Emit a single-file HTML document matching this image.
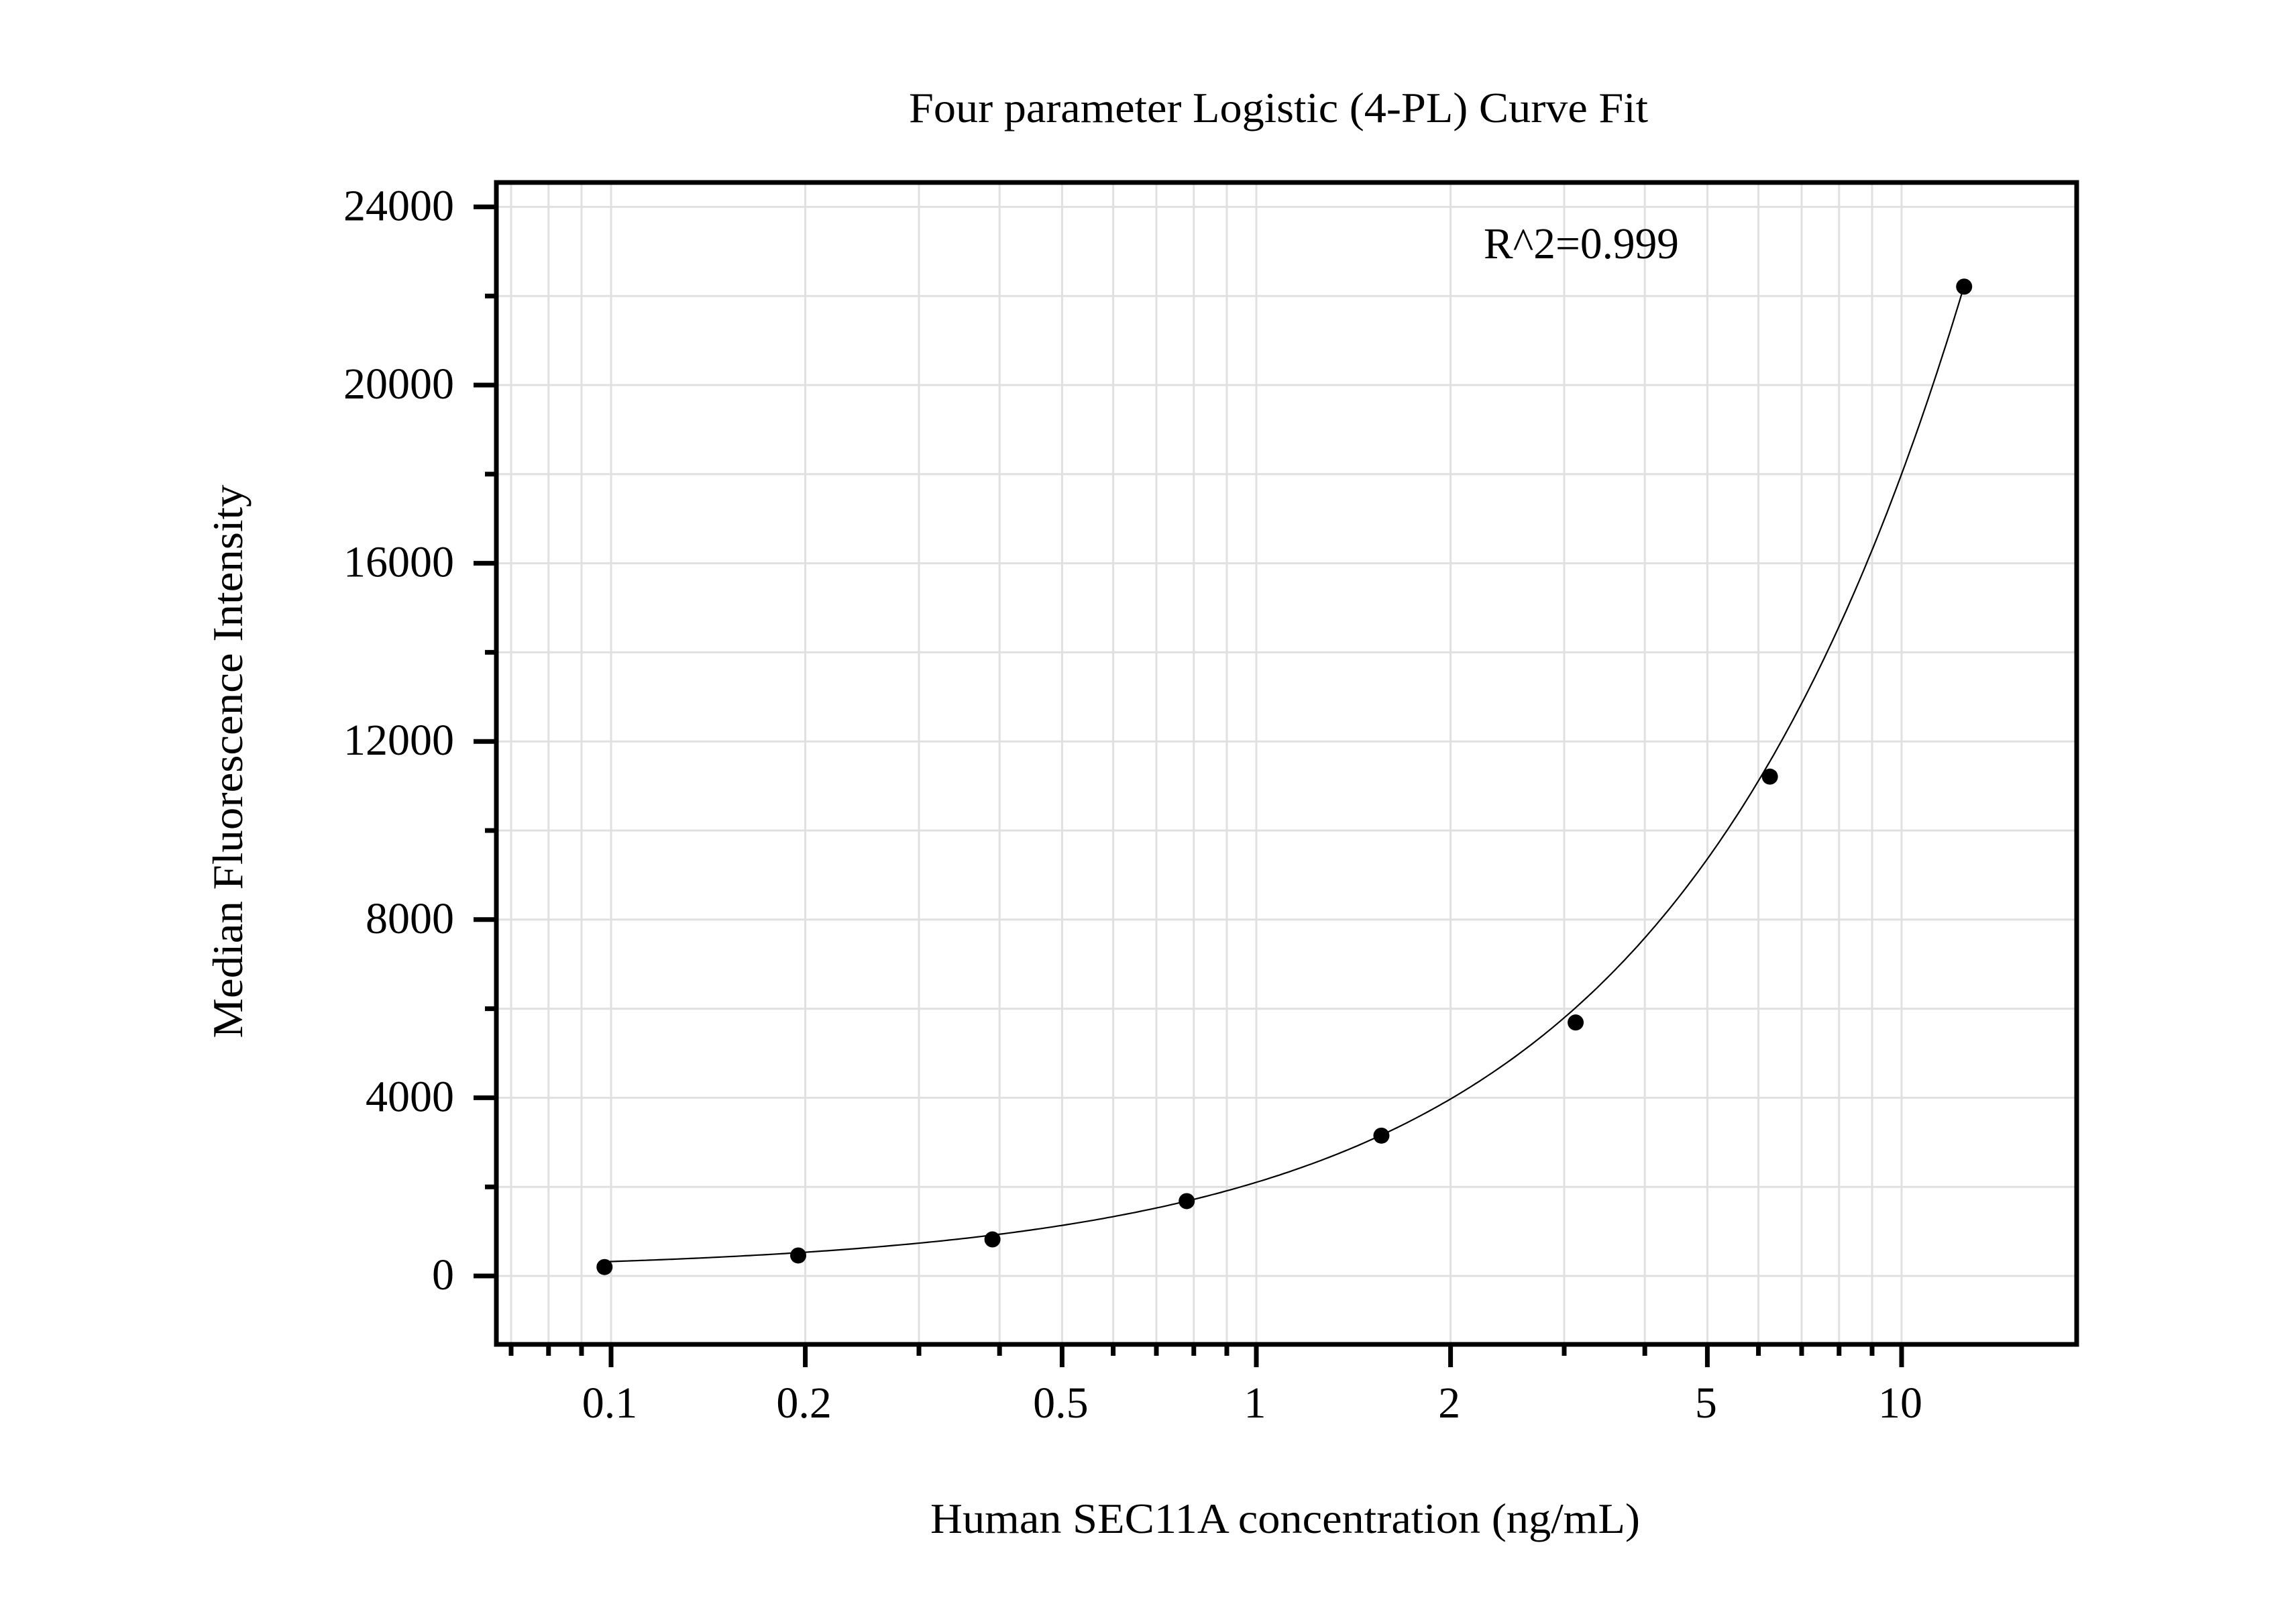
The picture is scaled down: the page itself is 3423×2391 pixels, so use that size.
<!DOCTYPE html>
<html><head><meta charset="utf-8"><style>
html,body{margin:0;padding:0;background:#fff;}
svg{display:block;}
text{font-family:"Liberation Serif",serif;fill:#000;}
</style></head><body>
<svg id="chart" width="3423" height="2391" viewBox="0 0 3423 2391" xmlns="http://www.w3.org/2000/svg">
<rect x="0" y="0" width="3423" height="2391" fill="#fff"/>
<g id="grid"></g>
<g id="curve"></g>
<g id="points"></g>
<g id="axes"></g>
<text x="1906" y="182" font-size="64" text-anchor="middle" textLength="1102" lengthAdjust="spacingAndGlyphs">Four parameter Logistic (4-PL) Curve Fit</text>
<text x="2212" y="385" font-size="66" textLength="291" lengthAdjust="spacingAndGlyphs">R^2=0.999</text>
<text x="1916" y="2285" font-size="64" text-anchor="middle" textLength="1058" lengthAdjust="spacingAndGlyphs">Human SEC11A concentration (ng/mL)</text>
<text transform="translate(361,1135) rotate(-90)" x="0" y="0" font-size="64" text-anchor="middle" textLength="825" lengthAdjust="spacingAndGlyphs">Median Fluorescence Intensity</text>
</svg>
<script>
const concentrations = [0.0977, 0.195, 0.39, 0.78, 1.5625, 3.125, 6.25, 12.5];
const mfiValues = [200, 460, 820, 1680, 3150, 5690, 11210, 22210];
const yTickValues = [0, 4000, 8000, 12000, 16000, 20000, 24000];
const yMinorValues = [2000, 6000, 10000, 14000, 18000, 22000];
const xTickValues = [0.1, 0.2, 0.5, 1, 2, 5, 10];
const xTickLabels = ["0.1", "0.2", "0.5", "1", "2", "5", "10"];
const xMinorValues = [0.07,0.08,0.09,0.1,0.2,0.3,0.4,0.5,0.6,0.7,0.8,0.9,1,2,3,4,5,6,7,8,9,10];
const fitParams = [100, 0.952, 7670, 1e7]; // a, b, c, d

const NS = "http://www.w3.org/2000/svg";
const L = 740, R = 3096, T = 272, B = 2004;
const X0 = 911, DEC = 962;
const Y0 = 1902, YPER = 132.8 / 2000;
function xs(v){ return X0 + Math.log10(v / 0.1) * DEC; }
function ys(v){ return Y0 - v * YPER; }
function mk(tag, attrs, parent){
  const e = document.createElementNS(NS, tag);
  for (const k in attrs) e.setAttribute(k, attrs[k]);
  parent.appendChild(e); return e;
}
const grid = document.getElementById('grid');
const axes = document.getElementById('axes');
const curveG = document.getElementById('curve');
const ptsG = document.getElementById('points');

xMinorValues.forEach(v => {
  const x = xs(v);
  const g = mk('line', {x1:x, x2:x, y1:T, y2:B, stroke:'#e0e0e0', 'stroke-width':3}, grid);
  
  
  const isMajor = xTickValues.some(t => Math.abs(t - v) < 1e-9);
  const t = mk('line', {x1:x, x2:x, y1:B, y2:B + (isMajor ? 34 : 17), stroke:'#000', 'stroke-width':7}, axes);
  
  
});
yTickValues.concat(yMinorValues).forEach(v => {
  const y = ys(v);
  const g = mk('line', {x1:L, x2:R, y1:y, y2:y, stroke:'#e0e0e0', 'stroke-width':3}, grid);
  
  
  const isMajor = yTickValues.indexOf(v) >= 0;
  const t = mk('line', {x1:L - (isMajor ? 34 : 17), x2:L, y1:y, y2:y, stroke:'#000', 'stroke-width':7}, axes);
  
  
});
yTickValues.forEach(v => {
  const t = mk('text', {x:677, y:ys(v) + 20, 'font-size':66, 'text-anchor':'end'}, axes);
  t.textContent = String(v);
  
  
});
xTickValues.forEach((v, i) => {
  const t = mk('text', {x:xs(v) - 2, y:2113, 'font-size':66, 'text-anchor':'middle'}, axes);
  t.textContent = xTickLabels[i];
  
  
});
const frame = mk('rect', {x:L, y:T, width:R - L, height:B - T, fill:'none', stroke:'#000', 'stroke-width':7}, axes);



function fit(x){ const [a,b,c,d] = fitParams; return d + (a - d) / (1 + Math.pow(x / c, b)); }
let dstr = '';
const x0 = concentrations[0], x1 = concentrations[concentrations.length - 1];
for (let i = 0; i <= 300; i++){
  const lx = Math.log10(x0) + (Math.log10(x1) - Math.log10(x0)) * i / 300;
  const x = Math.pow(10, lx);
  dstr += (i ? 'L' : 'M') + xs(x).toFixed(1) + ',' + ys(fit(x)).toFixed(1);
}
const path = mk('path', {d:dstr, fill:'none', stroke:'#000', 'stroke-width':2.2}, curveG);



concentrations.forEach((c, i) => {
  const p = mk('circle', {cx:xs(c), cy:ys(mfiValues[i]), r:12, fill:'#000'}, ptsG);
  
  
});
</script>
</body></html>
